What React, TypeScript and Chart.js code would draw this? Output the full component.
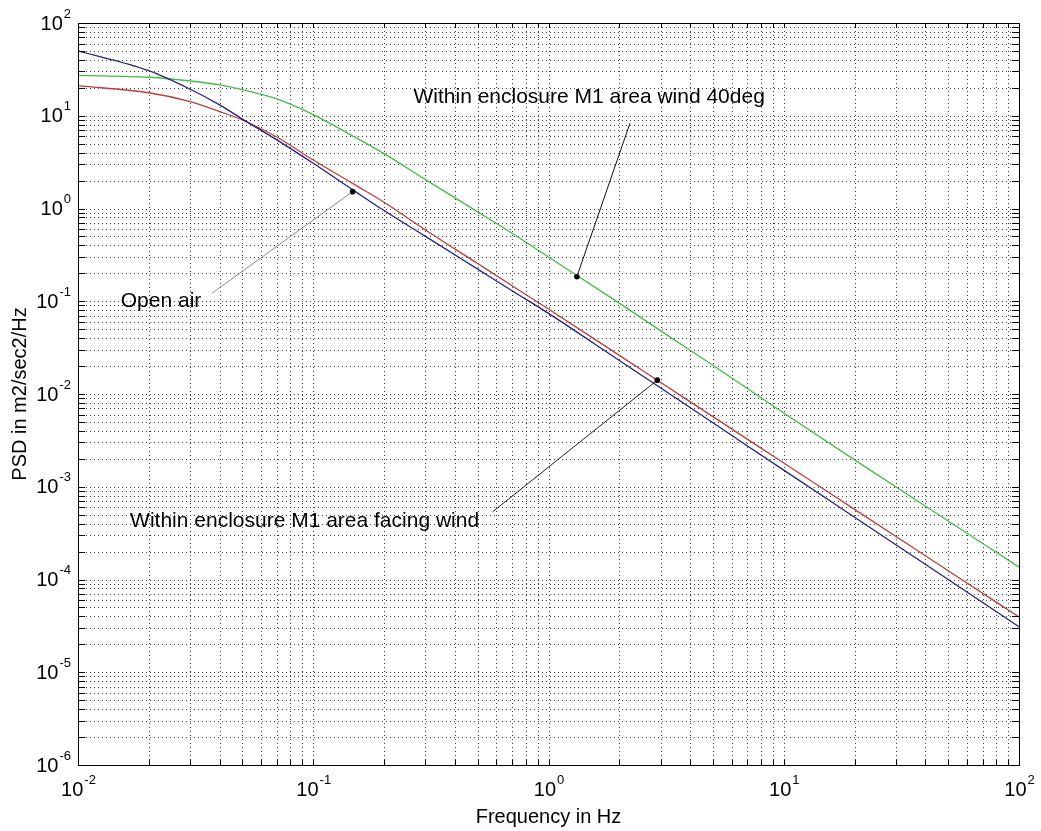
import React, { useEffect, useRef } from 'react';
import { Chart, registerables } from 'chart.js';

Chart.register(...registerables);

// ---- data ----
const frequencies = [0.01, 0.02, 0.03, 0.04, 0.05, 0.07, 0.1, 0.15, 0.2, 0.3, 0.5, 0.7, 1, 2, 3, 5, 10, 20, 50, 100];
const openAir = [50, 30.6, 19.3, 13.1, 9.2, 5.5, 3.07, 1.54, 0.95, 0.5, 0.222, 0.13, 0.074, 0.023, 0.0116, 0.00489, 0.00151, 4.69e-4, 1.0e-4, 3.09e-5];
const facingWind = [21.1, 17.7, 14.2, 11.1, 9.0, 5.9, 3.33, 1.81, 1.17, 0.586, 0.255, 0.147, 0.0824, 0.0261, 0.0133, 0.0057, 0.0018, 5.7e-4, 1.245e-4, 3.94e-5];
const wind40deg = [27.3, 26, 23.7, 21.5, 19.1, 15.2, 10.3, 5.9, 3.9, 2.05, 0.92, 0.54, 0.3, 0.0955, 0.0479, 0.0204, 0.00624, 0.00195, 4.27e-4, 1.36e-4];

const xDecades = [0.01, 0.1, 1, 10, 100];
const xExponents = ['-2', '-1', '0', '1', '2'];
const yDecades = [1e-6, 1e-5, 1e-4, 1e-3, 1e-2, 1e-1, 1, 10, 100];
const yExponents = ['-6', '-5', '-4', '-3', '-2', '-1', '0', '1', '2'];
const minorMultiples = [2, 3, 4, 5, 6, 7, 8, 9];

const xTitle = 'Frequency in Hz';
const yTitle = 'PSD in m2/sec2/Hz';

// annotations in data coordinates (text anchor = left/middle)
const annotationTexts = ['Within enclosure M1 area wind 40deg', 'Open air', 'Within enclosure M1 area facing wind'];
const annotationTextX = [0.2667, 0.0152, 0.01665];
const annotationTextY = [15.9, 0.0989, 4.27e-4];
const annotationLineX = [2.22, 0.0371, 0.5777];
const annotationLineY = [8.3, 0.122, 5.35e-4];
const annotationDotX = [1.32, 0.147, 2.9];
const annotationDotY = [0.184, 1.52, 0.0141];
const annotationLineColors = ['#111111', '#8a8a8a', '#222222'];

const FONT = '"Liberation Sans", Arial, sans-serif';

function gridValues(decades: number[]) {
  const out: number[] = [];
  for (let i = 0; i < decades.length; i++) {
    out.push(decades[i]);
    if (i < decades.length - 1) for (const m of minorMultiples) out.push(decades[i] * m);
  }
  return out;
}

const matlabAxes = {
  id: 'matlabAxes',
  beforeDatasetsDraw(chart: any) {
    const { ctx, chartArea: a, scales } = chart;
    const x = scales.x, y = scales.y;
    ctx.save();
    ctx.strokeStyle = 'rgba(0,0,0,0.75)';
    ctx.lineWidth = 1;
    ctx.setLineDash([1, 3]);
    for (const v of gridValues(xDecades)) {
      const px = Math.round(x.getPixelForValue(v)) + 0.5;
      if (px <= a.left + 1 || px >= a.right - 1) continue;
      ctx.beginPath(); ctx.moveTo(px, a.top); ctx.lineTo(px, a.bottom); ctx.stroke();
    }
    for (const v of gridValues(yDecades)) {
      const py = Math.round(y.getPixelForValue(v)) + 0.5;
      if (py <= a.top + 1 || py >= a.bottom - 1) continue;
      ctx.beginPath(); ctx.moveTo(a.left, py); ctx.lineTo(a.right, py); ctx.stroke();
    }
    ctx.restore();
  },
  afterDraw(chart: any) {
    const { ctx, chartArea: a, scales } = chart;
    const x = scales.x, y = scales.y;
    ctx.save();
    // tick marks (inside, all four sides)
    ctx.strokeStyle = '#000';
    ctx.lineWidth = 1;
    ctx.setLineDash([]);
    for (const v of gridValues(xDecades)) {
      const px = Math.round(x.getPixelForValue(v)) + 0.5;
      ctx.beginPath();
      ctx.moveTo(px, a.bottom); ctx.lineTo(px, a.bottom - 5);
      ctx.moveTo(px, a.top); ctx.lineTo(px, a.top + 5);
      ctx.stroke();
    }
    for (const v of gridValues(yDecades)) {
      const py = Math.round(y.getPixelForValue(v)) + 0.5;
      ctx.beginPath();
      ctx.moveTo(a.left, py); ctx.lineTo(a.left + 7, py);
      ctx.moveTo(a.right, py); ctx.lineTo(a.right - 7, py);
      ctx.stroke();
    }
    // box
    ctx.strokeRect(Math.round(a.left) + 0.5, Math.round(a.top) + 0.5, Math.round(a.right - a.left), Math.round(a.bottom - a.top));

    // tick labels
    ctx.fillStyle = '#000';
    ctx.textBaseline = 'middle';
    ctx.textAlign = 'left';
    const baseFont = `20px ${FONT}`;
    const expFont = `13px ${FONT}`;
    yDecades.forEach((v, i) => {
      const py = y.getPixelForValue(v);
      ctx.font = baseFont; const wb = ctx.measureText('10').width;
      ctx.font = expFont; const we = ctx.measureText(yExponents[i]).width;
      const x0 = a.left - 8 - we - wb;
      ctx.font = baseFont; ctx.fillText('10', x0, py + 1);
      ctx.font = expFont; ctx.fillText(yExponents[i], x0 + wb + 1, py - 9);
    });
    xDecades.forEach((v, i) => {
      const px = x.getPixelForValue(v);
      ctx.font = baseFont; const wb = ctx.measureText('10').width;
      ctx.font = expFont; const we = ctx.measureText(xExponents[i]).width;
      const x0 = px - (wb + we) / 2;
      ctx.font = baseFont; ctx.fillText('10', x0, a.bottom + 25);
      ctx.font = expFont; ctx.fillText(xExponents[i], x0 + wb + 1, a.bottom + 15);
    });

    // annotations
    annotationTexts.forEach((t, i) => {
      const dx = x.getPixelForValue(annotationDotX[i]);
      const dy = y.getPixelForValue(annotationDotY[i]);
      const lx = x.getPixelForValue(annotationLineX[i]);
      const ly = y.getPixelForValue(annotationLineY[i]);
      ctx.strokeStyle = annotationLineColors[i];
      ctx.lineWidth = 1;
      ctx.beginPath(); ctx.moveTo(lx, ly); ctx.lineTo(dx, dy); ctx.stroke();
      ctx.fillStyle = '#000';
      ctx.beginPath(); ctx.arc(dx, dy, 2.8, 0, Math.PI * 2); ctx.fill();
      ctx.font = `21px ${FONT}`;
      ctx.textAlign = 'left';
      ctx.textBaseline = 'middle';
      ctx.fillText(t, x.getPixelForValue(annotationTextX[i]), y.getPixelForValue(annotationTextY[i]));
    });
    ctx.restore();
  },
};

export default function App() {
  const canvasRef = useRef<HTMLCanvasElement | null>(null);

  useEffect(() => {
    const canvas = canvasRef.current;
    if (!canvas) return;
    const mk = (vals: number[]) => frequencies.map((f, i) => ({ x: f, y: vals[i] }));
    const chart = new Chart(canvas, {
      type: 'line',
      data: {
        datasets: [
          { label: 'Open air', data: mk(openAir), borderColor: '#23237a', borderWidth: 1.3, pointRadius: 0, cubicInterpolationMode: 'monotone', fill: false },
          { label: 'Within enclosure M1 area facing wind', data: mk(facingWind), borderColor: '#b8403c', borderWidth: 1.3, pointRadius: 0, cubicInterpolationMode: 'monotone', fill: false },
          { label: 'Within enclosure M1 area wind 40deg', data: mk(wind40deg), borderColor: '#45bb45', borderWidth: 1.3, pointRadius: 0, cubicInterpolationMode: 'monotone', fill: false },
        ],
      },
      options: {
        animation: false,
        responsive: false,
        devicePixelRatio: 1,
        layout: { padding: { left: 0, top: 23, right: 22, bottom: 0 } },
        plugins: { legend: { display: false }, tooltip: { enabled: false } },
        scales: {
          x: {
            type: 'logarithmic',
            min: 0.01,
            max: 100,
            grid: { display: false },
            border: { display: false },
            ticks: { display: false },
            title: { display: true, text: xTitle, color: '#000', font: { family: FONT, size: 20 }, padding: { top: 0, bottom: 2 } },
            afterFit: (s: any) => { s.height = 66; },
          },
          y: {
            type: 'logarithmic',
            min: 1e-6,
            max: 100,
            grid: { display: false },
            border: { display: false },
            ticks: { display: false },
            title: { display: true, text: yTitle, color: '#000', font: { family: FONT, size: 20 }, padding: { top: 8, bottom: 0 } },
            afterFit: (s: any) => { s.width = 78; },
          },
        },
      } as any,
      plugins: [matlabAxes],
    });
    return () => chart.destroy();
  }, []);

  return (
    <div style={{ position: 'absolute', left: 0, top: 0, width: 1041, height: 831, background: '#fff' }}>
      <canvas ref={canvasRef} width={1041} height={831} style={{ display: 'block' }} />
    </div>
  );
}
